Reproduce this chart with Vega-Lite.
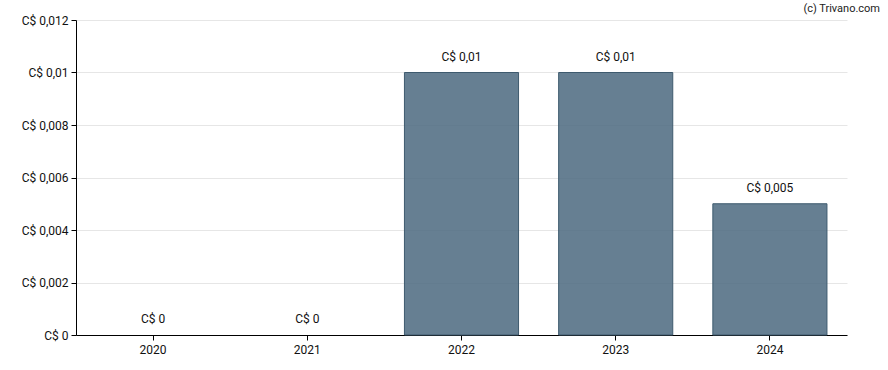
{
  "$schema": "https://vega.github.io/schema/vega-lite/v6.json",
  "width": 771,
  "height": 315,
  "autosize": {"type": "none"},
  "padding": {"left": 76, "top": 20, "right": 41, "bottom": 35},
  "background": "white",
  "title": {
    "text": "(c) Trivano.com",
    "anchor": "end",
    "orient": "top",
    "font": "Roboto",
    "fontSize": 11,
    "fontWeight": "normal",
    "color": "#222222",
    "dx": 33,
    "offset": 0
  },
  "config": {
    "view": {"stroke": null},
    "font": "Roboto"
  },
  "data": {
    "values": [
      {"year": "2020", "value": 0},
      {"year": "2021", "value": 0},
      {"year": "2022", "value": 0.01},
      {"year": "2023", "value": 0.01},
      {"year": "2024", "value": 0.005}
    ]
  },
  "encoding": {
    "x": {
      "field": "year",
      "type": "ordinal",
      "scale": {"paddingInner": 0.26, "paddingOuter": 0.13},
      "axis": {
        "title": null,
        "labelAngle": 0,
        "labelFont": "Roboto",
        "labelFontSize": 12,
        "labelColor": "#111111",
        "domainColor": "#000000",
        "tickColor": "#000000",
        "tickSize": 5,
        "labelPadding": 4,
        "grid": false
      }
    },
    "y": {
      "field": "value",
      "type": "quantitative",
      "scale": {"domain": [0, 0.012]},
      "axis": {
        "title": null,
        "values": [0, 0.002, 0.004, 0.006, 0.008, 0.01, 0.012],
        "labelExpr": "'C$ ' + replace(format(datum.value, '~g'), '.', ',')",
        "labelFont": "Roboto",
        "labelFontSize": 12,
        "labelColor": "#111111",
        "domainColor": "#000000",
        "tickColor": "#000000",
        "tickSize": 5,
        "labelPadding": 3,
        "gridColor": "#e6e6e6"
      }
    }
  },
  "layer": [
    {
      "transform": [{"filter": "datum.value > 0"}],
      "mark": {"type": "bar", "fill": "#4d6a80", "fillOpacity": 0.86, "stroke": "#3e5a6e", "strokeWidth": 1}
    },
    {
      "transform": [{"calculate": "'C$ ' + replace(format(datum.value, '~g'), '.', ',')", "as": "label"}],
      "mark": {"type": "text", "baseline": "bottom", "dy": -9, "font": "Roboto", "fontSize": 12, "color": "#111111"},
      "encoding": {
        "text": {"field": "label", "type": "nominal"}
      }
    }
  ]
}
